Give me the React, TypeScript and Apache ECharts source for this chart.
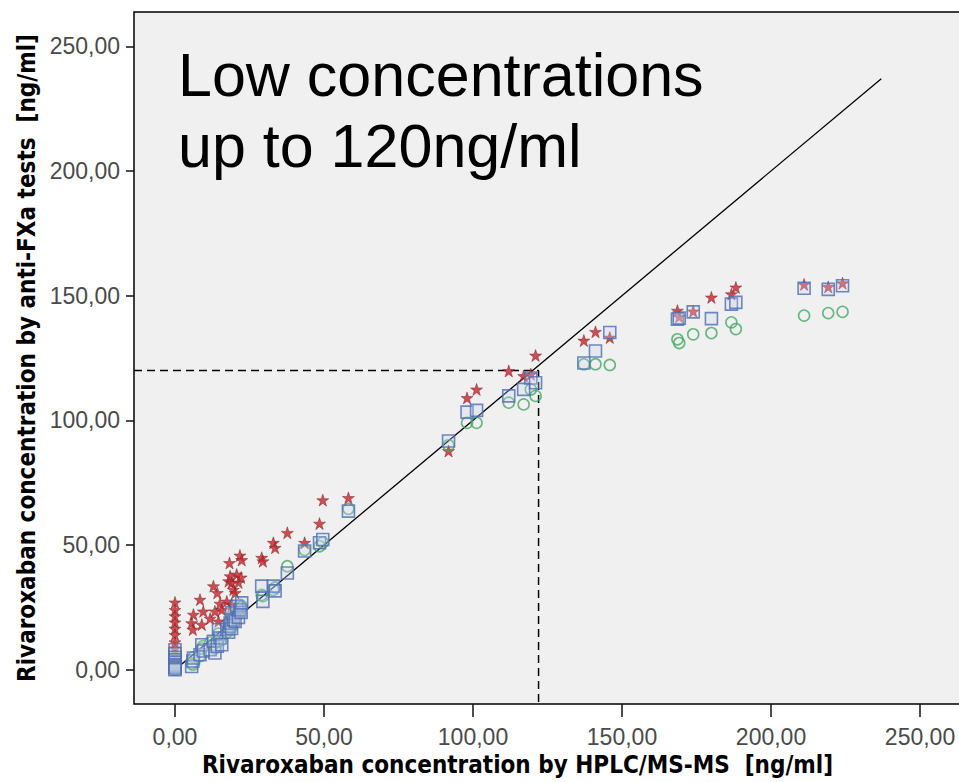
import React, { useEffect, useRef } from "react";
import * as echarts from "echarts";

// HPLC/MS-MS concentration of each sample [ng/ml]
const hplcConcentration = [
  0, 0, 0, 0, 0, 0, 0, 0, 0, 0,
  5.6, 6.0, 6.2, 8.4, 9.0, 9.5, 11.8, 12.9, 13.4, 14.2, 14.6, 15.1, 15.7,
  17.4, 18.0, 18.3, 18.5, 19.0, 19.0, 19.6, 20.2, 20.7, 21.3, 21.8, 22.2, 22.4,
  29.1, 29.5, 33.0, 33.6, 37.7, 43.5, 48.5, 49.6, 58.2,
  91.8, 98.0, 101.2, 112.0, 117.0, 119.4, 121.0,
  137.2, 141.1, 145.9,
  168.6, 169.2, 173.9, 180.0, 186.7, 188.2,
  211.1, 219.2, 224.0,
];

// anti-FXa test 1 (red stars)
const antiFXaStar = [
  27, 24, 21.5, 19, 16.5, 14, 11, 8.5, 5.5, 2.5,
  18.7, 16.1, 22.1, 28.1, 18.1, 23.4, 20.5, 33.5, 23.4, 30.8, 19.4, 26.5, 24.0,
  27.4, 35.5, 42.8, 37.5, 34.8, 26.1, 32.1, 30.8, 38.2, 35.0, 45.8, 37.0, 44.0,
  44.9, 43.5, 50.9, 48.9, 54.9, 50.9, 58.6, 68.0, 68.9,
  87.7, 109.0, 112.4, 119.8, 117.8, 118.5, 126.0,
  132.0, 135.5, 133.2,
  144.0, 141.5, 143.7, 149.3, 150.6, 153.3,
  154.5, 153.5, 155.0,
];

// anti-FXa test 2 (blue squares)
const antiFXaSquare = [
  8, 6.5, 5, 4, 3, 2, 1.5, 1, 0.5, 0,
  1.3, 3.5, 4.7, 6.0, 10.0, 7.5, 8.0, 11.4, 6.7, 9.4, 16.1, 12.7, 10.0,
  16.1, 15.0, 17.4, 18.7, 22.8, 16.5, 20.0, 19.4, 25.4, 21.0, 24.0, 23.0, 26.8,
  33.5, 27.4, 33.5, 31.6, 38.8, 47.6, 50.9, 52.2, 63.6,
  91.7, 103.3, 104.0, 109.8, 112.4, 117.0, 115.1,
  123.0, 127.8, 135.2,
  140.6, 141.0, 143.5, 140.8, 146.6, 147.3,
  153.0, 152.5, 154.0,
];

// anti-FXa test 3 (green circles)
const antiFXaCircle = [
  5, 3.5, 2.5, 2, 1.5, 1, 0.5, 0, 0, 0,
  2.5, 2.0, 5.0, 5.5, 8.5, 9.5, 11.0, 10.0, 8.5, 11.0, 14.5, 13.0, 12.0,
  15.0, 16.5, 19.0, 18.0, 21.5, 17.0, 21.0, 20.5, 23.0, 22.5, 26.0, 25.0, 25.5,
  30.0, 29.5, 32.0, 33.0, 41.5, 48.0, 49.5, 51.0, 64.5,
  90.0, 99.0, 99.0, 107.1, 106.4, 112.4, 109.8,
  122.5, 122.5, 122.2,
  132.5, 131.0, 134.5, 135.0, 139.3, 136.6,
  142.0, 143.0, 143.5,
];

const tickValues = [0, 50, 100, 150, 200, 250];
const axisMin = -13.75;
const axisMax = 263.75;
const identityLine = [
  [0, 0],
  [237, 237],
];
const cutoffValue = 120;
const cutoffX = 122;
const annotationLines = ["Low concentrations", "up to 120ng/ml"];
const xTitle = "Rivaroxaban concentration by HPLC/MS-MS  [ng/ml]";
const yTitle = "Rivaroxaban concentration by anti-FXa tests  [ng/ml]";

const STAR =
  "path://M50 0L61.8 35.1L98.9 35.1L68.9 56.9L80.4 92L50 70.3L19.6 92L31.1 56.9L1.1 35.1L38.2 35.1Z";

const fmt = (v: number) => v.toFixed(2).replace(".", ",");

const tickFont = {
  fontFamily: '"Liberation Sans", Arial, sans-serif',
  fontSize: 23,
  color: "#4a4a4a",
};
const titleFont = {
  fontFamily: '"DejaVu Sans Condensed", "DejaVu Sans", sans-serif',
  fontWeight: "bold" as const,
  fontSize: 24,
  color: "#000",
};

export default function App() {
  const ref = useRef<HTMLDivElement>(null);
  useEffect(() => {
    if (!ref.current) return;
    const chart = echarts.init(ref.current, undefined, { renderer: "svg" });
    const pair = (ys: number[]) => hplcConcentration.map((x, i) => [x, ys[i]]);
    const cutoffLine = [
      [axisMin, cutoffValue],
      [cutoffX, cutoffValue],
      [cutoffX, axisMin],
    ];
    chart.setOption({
      animation: false,
      backgroundColor: "#ffffff",
      grid: {
        left: 134,
        top: 12,
        width: 827,
        height: 692,
        show: true,
        backgroundColor: "#f0f0f0",
        borderColor: "#000",
        borderWidth: 1.5,
        containLabel: false,
        outerBoundsMode: "none",
      },
      xAxis: {
        type: "value",
        min: axisMin,
        max: axisMax,
        axisLine: { show: false, onZero: false },
        splitLine: { show: false },
        axisTick: {
          show: true,
          inside: false,
          length: 13,
          lineStyle: { color: "#111", width: 1.5 },
          customValues: tickValues,
        },
        axisLabel: { customValues: tickValues, formatter: fmt, margin: 21, ...tickFont },
        name: xTitle,
        nameLocation: "middle",
        nameGap: 48,
        nameTextStyle: { ...titleFont, padding: [0, 60, 0, 0] },
      },
      yAxis: {
        type: "value",
        min: axisMin,
        max: axisMax,
        axisLine: { show: false, onZero: false },
        splitLine: { show: false },
        axisTick: {
          show: true,
          inside: false,
          length: 8,
          lineStyle: { color: "#111", width: 1.5 },
          customValues: tickValues,
        },
        axisLabel: { customValues: tickValues, formatter: fmt, margin: 14, ...tickFont },
        name: yTitle,
        nameLocation: "middle",
        nameGap: 87,
        nameTextStyle: titleFont,
      },
      series: [
        {
          type: "line",
          data: identityLine,
          symbol: "none",
          lineStyle: { color: "#000", width: 1.3 },
          z: 1,
          silent: true,
        },
        {
          type: "line",
          data: cutoffLine,
          symbol: "none",
          lineStyle: { color: "#000", width: 1.5, type: [8, 5] },
          z: 1,
          silent: true,
        },
        {
          name: "anti-FXa (stars)",
          type: "scatter",
          data: pair(antiFXaStar),
          symbol: STAR,
          symbolSize: 12,
          itemStyle: { color: "#c1272d", borderColor: "#8a1c22", borderWidth: 0.6 },
          z: 3,
        },
        {
          name: "anti-FXa (circles)",
          type: "scatter",
          data: pair(antiFXaCircle),
          symbol: "circle",
          symbolSize: 11,
          itemStyle: { color: "rgba(255,255,255,0)", borderColor: "#45a865", borderWidth: 1.6 },
          z: 4,
        },
        {
          name: "anti-FXa (squares)",
          type: "scatter",
          data: pair(antiFXaSquare),
          symbol: "rect",
          symbolSize: 12,
          itemStyle: { color: "rgba(205,212,240,0.35)", borderColor: "#4f6db3", borderWidth: 1.6 },
          z: 5,
        },
      ],
      graphic: [
        {
          type: "text",
          x: 178,
          y: 39,
          style: {
            text: annotationLines.join("\n"),
            font: '61px "Liberation Sans", Arial, sans-serif',
            fill: "#000",
            lineHeight: 71,
            verticalAlign: "top",
          },
        },
      ],
    });
    return () => chart.dispose();
  }, []);
  return (
    <div
      ref={ref}
      style={{ position: "fixed", left: 0, top: 0, width: 959, height: 782 }}
    />
  );
}
